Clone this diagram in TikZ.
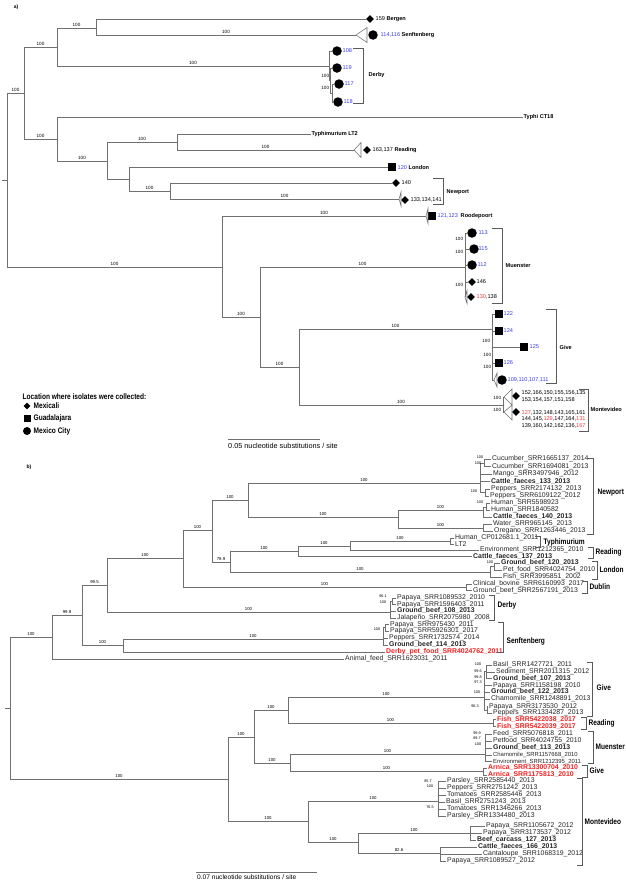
\documentclass[tikz,border=0pt]{standalone}
\usepackage{fontspec}
\setmainfont{Liberation Sans}
\usetikzlibrary{shapes.geometric}
\definecolor{brgray}{HTML}{707070}
\definecolor{idblue}{HTML}{3B3BEF}
\definecolor{idred}{HTML}{EF3B3B}
\definecolor{redlbl}{HTML}{F21F1F}
\newcommand{\narrow}[1]{\scalebox{0.82}[1]{\bfseries #1}}
\tikzset{
  br/.style={draw=brgray, line width=0.55pt},
  brk/.style={draw=brgray!80!black, line width=0.6pt},
  boot/.style={pos=0.75, above, inner sep=0.7pt, font=\fontsize{4.6}{5}\selectfont},
  bootx/.style={anchor=east, inner sep=0.7pt, font=\fontsize{4.6}{5}\selectfont},
  bootb/.style={pos=0.75, above, inner sep=0.7pt, font=\fontsize{4.3}{5}\selectfont},
  bsm/.style={inner sep=0pt, font=\fontsize{3.8}{4}\selectfont},
  dia/.style={diamond, fill=black, inner sep=0pt, minimum size=8pt},
  sqr/.style={rectangle, fill=black, inner sep=0pt, minimum size=8pt},
  cir/.style={circle, fill=black, inner sep=0pt, minimum size=9.5pt},
  ida/.style={anchor=west, inner sep=0.5pt, font=\fontsize{5.6}{6}\selectfont},
  leaf/.style={anchor=west, inner sep=1pt, font=\fontsize{6.9}{7}\selectfont, text height=5pt, text depth=1.4pt, text=black!85},
  leafs/.style={leaf, font=\fontsize{5.9}{6}\selectfont},
  sero/.style={anchor=west, inner sep=0.5pt, font=\fontsize{8}{8}\selectfont},
  tag/.style={font=\fontsize{5}{5}\selectfont\bfseries},
}
\begin{document}
\begin{tikzpicture}[x=1pt,y=-1pt]
\useasboundingbox (0,0) rectangle (625,881);
%%%%%%%%%%%%%%%% a) %%%%%%%%%%%%%%%%
\node[tag] (tagA) at (16,7) {a)};
\coordinate (aRt) at (2,180);
\coordinate (aR) at (7,180);
\coordinate (aN1) at (24,93);
\coordinate (aN2) at (57,47);
\coordinate (aN3) at (96,28);
\coordinate (aN4) at (57,139);
\coordinate (aN5) at (107,161);
\coordinate (aN6) at (177,142);
\coordinate (aN7) at (129,179);
\coordinate (aN8) at (170,191);
\coordinate (aN9) at (222,267);
\coordinate (aN10) at (260,317);
\coordinate (aN11) at (299,367);
\coordinate (aDer) at (329,66);
\coordinate (aDer1) at (330,80.5);
\coordinate (aDer2) at (332,93);
\coordinate (aMue) at (465,267);
\coordinate (aGiv) at (492,329);
\coordinate (aMon) at (503,405);
% collapsed clades
\coordinate (aSenT) at (356,35);
\coordinate (aReaT) at (354,150);
\coordinate (aNewT) at (399,199);
\coordinate (aRooT) at (426,216);
\coordinate (aMueT) at (465,297);
\coordinate (aGivT) at (494,380);
\coordinate (aMonT1) at (504,397);
\coordinate (aMonT2) at (504,412);
% tips
\node[dia] (aBer) at (370,19) {};
\node[cir] (aSen) at (373,35) {};
\node[cir] (a108) at (337,51) {};
\node[cir] (a119) at (337,68) {};
\node[cir] (a117) at (339,84) {};
\node[cir] (a118) at (338,102) {};
\node[ida] (aTyphi) at (523,117) {\textbf{Typhi CT18}};
\node[ida] (aLT2) at (311,134) {\textbf{Typhimurium LT2}};
\node[dia] (aRea) at (367,150) {};
\node[sqr] (aLon) at (392,167) {};
\node[dia] (a140) at (396,183) {};
\node[dia] (aNew) at (405,200) {};
\node[sqr] (aRoo) at (432,216) {};
\node[cir] (a113) at (472,233) {};
\node[cir] (a115) at (474,249) {};
\node[cir] (a112) at (472,265) {};
\node[dia] (a146) at (472,282) {};
\node[dia] (a130) at (471,297) {};
\node[sqr] (a122) at (499,314) {};
\node[sqr] (a124) at (499,331) {};
\node[sqr] (a125) at (524,347) {};
\node[sqr] (a126) at (499,363) {};
\node[cir] (a109) at (502,380) {};
\node[dia] (aMo1) at (516,396) {};
\node[dia] (aMo2) at (516,412) {};
% branches
\draw[br] (aRt) -- (aR);
\draw[br] (aR) |- node[boot]{100} (aN1);
\draw[br] (aR) |- node[boot]{100} (aN9);
\draw[br] (aN1) |- node[boot]{100} (aN2);
\draw[br] (aN1) |- node[boot]{100} (aN4);
\draw[br] (aN2) |- node[boot]{100} (aN3);
\draw[br] (aN2) |- node[boot]{100} (aDer);
\draw[br] (aN3) |- (aBer);
\draw[br] (aN3) |- node[boot]{100} (aSenT);
\draw[br] (aN4) |- (aTyphi);
\draw[br] (aN4) |- node[boot]{100} (aN5);
\draw[br] (aN5) |- node[boot]{100} (aN6);
\draw[br] (aN5) |- (aN7);
\draw[br] (aN6) |- (aLT2);
\draw[br] (aN6) |- node[boot]{100} (aReaT);
\draw[br] (aN7) |- (aLon);
\draw[br] (aN7) |- node[boot]{100} (aN8);
\draw[br] (aN8) |- (a140);
\draw[br] (aN8) |- node[boot]{100} (aNewT);
\draw[br] (aN9) |- node[boot]{100} (aRooT);
\draw[br] (aN9) |- node[boot]{100} (aN10);
\draw[br] (aN10) |- node[boot]{100} (aMue);
\draw[br] (aN10) |- node[boot]{100} (aN11);
\draw[br] (aN11) |- node[boot]{100} (aGiv);
\draw[br] (aN11) |- node[boot]{100} (aMon);
% Derby
\draw[br] (aDer) |- (a108);
\draw[br] (aDer) |- (aDer1);
\draw[br] (aDer1) |- (a119);
\draw[br] (aDer1) |- (aDer2);
\draw[br] (aDer2) |- (a117);
\draw[br] (aDer2) |- (a118);
\node[bootx] at (330,76) {100};
\node[bootx] at (330,88) {100};
% Muenster, Give, Montevideo
\foreach \t in {a113,a115,a112,a146,aMueT} \draw[br] (aMue) |- (\t);
\foreach \t in {a122,a124,a125,a126,aGivT} \draw[br] (aGiv) |- (\t);
\draw[br] (aMon) |- (aMonT1);
\draw[br] (aMon) |- (aMonT2);
\node[bootx] at (464,239) {100};
\node[bootx] at (464,252) {100};
\node[bootx] at (464,285) {100};
\node[bootx] at (491,341) {100};
\node[bootx] at (492,355) {100};
\node[bootx] at (492,367) {100};
\node[bootx] at (502,398) {100};
\node[bootx] at (502,410) {100};
% triangles
\draw[br] (aSenT) -- ++(11,-7.5) -- ++(0,15) -- cycle;
\draw[br] (aReaT) -- ++(7,-7.5) -- ++(0,15) -- cycle;
\draw[br] (aNewT) -- ++(2,-7) -- ++(0,14) -- cycle;
\draw[br] (aRooT) -- ++(2,-7.5) -- ++(0,15) -- cycle;
\draw[br] (aMueT) -- ++(2,-6.5) -- ++(0,13) -- cycle;
\draw[br] (aGivT) -- ++(3,-7) -- ++(0,14) -- cycle;
\draw[br] (aMonT1) -- ++(8,-8) -- ++(0,16) -- cycle;
\draw[br] (aMonT2) -- ++(8,-7) -- ++(0,15) -- cycle;
% isolate labels
\node[ida] (aBerL) at (375,19) {159 \textbf{Bergen}};
\node[ida] (aSenL) at (380,35) {\textcolor{idblue}{114,116} \textbf{Senftenberg}};
\node[ida] (a108L) at (342,51) {\textcolor{idblue}{108}};
\node[ida] (a119L) at (342,68) {\textcolor{idblue}{119}};
\node[ida] (a117L) at (344,84) {\textcolor{idblue}{117}};
\node[ida] (a118L) at (343,102) {\textcolor{idblue}{118}};
\node[ida] (aReaL) at (372,150) {163,137 \textbf{Reading}};
\node[ida] (aLonL) at (397,167) {\textcolor{idblue}{120} \textbf{London}};
\node[ida] (a140L) at (401,183) {140};
\node[ida] (aNewL) at (410,200) {133,134,141};
\node[ida] (aRooL) at (437,216) {\textcolor{idblue}{121,123}\enspace\textbf{Roodepoort}};
\node[ida] (a113L) at (478,233) {\textcolor{idblue}{113}};
\node[ida] (a115L) at (478,249) {\textcolor{idblue}{115}};
\node[ida] (a112L) at (477,265) {\textcolor{idblue}{112}};
\node[ida] (a146L) at (476,282) {146};
\node[ida] (a130L) at (476,297) {\textcolor{idred}{130},138};
\node[ida] (a122L) at (503,314) {\textcolor{idblue}{122}};
\node[ida] (a124L) at (503,331) {\textcolor{idblue}{124}};
\node[ida] (a125L) at (529,347) {\textcolor{idblue}{125}};
\node[ida] (a126L) at (503,363) {\textcolor{idblue}{126}};
\node[ida] (a109L) at (507,380) {\textcolor{idblue}{109,110,107,111}};
\node[ida] (aMoL1) at (521,393) {152,166,150,155,156,135};
\node[ida] (aMoL2) at (521,399.5) {153,154,157,151,158};
\node[ida] (aMoL3) at (521,412.5) {\textcolor{idred}{127},132,148,143,165,161};
\node[ida] (aMoL4) at (521,419.3) {144,145,\textcolor{idred}{129},147,164,\textcolor{idred}{131}};
\node[ida] (aMoL5) at (521,426) {139,160,142,162,136,\textcolor{idred}{167}};
% serovar brackets
\draw[brk] (353,48) -- (363,48) -- (363,103) -- (353,103);
\node[ida] (aDerL) at (368,75) {\textbf{Derby}};
\draw[brk] (433,178) -- (443,178) -- (443,204) -- (433,204);
\node[ida] (aNewS) at (446,192) {\textbf{Newport}};
\draw[brk] (492,228) -- (502,228) -- (502,303) -- (492,303);
\node[ida] (aMueL) at (505,266) {\textbf{Muenster}};
\draw[brk] (546,309) -- (556,309) -- (556,383) -- (546,383);
\node[ida] (aGivL) at (559,347) {\textbf{Give}};
\draw[brk] (579,389) -- (588,389) -- (588,431) -- (579,431);
\node[ida] (aMonL) at (590,409) {\textbf{Montevideo}};
% legend
\node[sero] (legT) at (22,397) {\narrow{Location where isolates were collected:}};
\node[dia, minimum size=7pt] (legD) at (27,406) {};
\node[sero] (legDL) at (33,406) {\narrow{Mexicali}};
\node[sqr, minimum size=7pt] (legS) at (27,418) {};
\node[sero] (legSL) at (33,418) {\narrow{Guadalajara}};
\node[cir, minimum size=8pt] (legC) at (27,431) {};
\node[sero] (legCL) at (33,431) {\narrow{Mexico City}};
% scale
\coordinate (sbA1) at (228,439);
\coordinate (sbA2) at (320,439);
\draw[br] (sbA1) -- (sbA2);
\node[anchor=west, inner sep=0pt, font=\fontsize{7.3}{7}\selectfont] (sbAL) at (228,445.5) {0.05 nucleotide substitutions / site};
%%%%%%%%%%%%%%%% b) %%%%%%%%%%%%%%%%
\node[tag] (tagB) at (29,467) {b)};
\coordinate (bRt) at (5,708);
\coordinate (bR) at (10,708);
\coordinate (bN1) at (52,637);
\coordinate (bN2) at (82,615);
\coordinate (bN3) at (107,585);
\coordinate (bN4) at (183,558);
\coordinate (bN5) at (212,530);
\coordinate (bN6) at (248,500);
\coordinate (bN7) at (398,517);
\coordinate (bN8) at (230,562);
\coordinate (bN9) at (298,551);
\coordinate (bN10) at (350,546);
\coordinate (bN11) at (123,645);
\coordinate (bN12) at (228,779);
\coordinate (bN13) at (254,737);
\coordinate (bN14) at (288,710);
\coordinate (bN15) at (290,763);
\coordinate (bN16) at (308,821);
\coordinate (bN17) at (358,842);
\coordinate (bNwA) at (480,483);
\coordinate (bNwA1) at (484,463);
\coordinate (bNwA2) at (485,492.5);
\coordinate (bNwB) at (483,510);
\coordinate (bNwB1) at (486,507);
\coordinate (bNwC) at (483,528);
\coordinate (bTym) at (450,541);
\coordinate (bLon) at (490,572);
\coordinate (bLon1) at (494,566.5);
\coordinate (bDub) at (466,587);
\coordinate (bDer) at (390,612);
\coordinate (bDer1) at (392,601);
\coordinate (bSen) at (383,639);
\coordinate (bSen1) at (385,627.5);
\coordinate (bGiv) at (484,697);
\coordinate (bGiv1) at (486,671.5);
\coordinate (bGiv2) at (487,710);
\coordinate (bRea) at (493,723);
\coordinate (bMue) at (485,754);
\coordinate (bGiv3) at (483,771);
\coordinate (bMon1) at (438,801);
\coordinate (bMon2) at (470,833);
\coordinate (bMon3) at (440,853);
% leaves
\node[leaf] (bCu1) at (491,459) {Cucumber\_SRR1665137\_2014};
\node[leaf] (bCu2) at (491,466.5) {Cucumber\_SRR1694081\_2013};
\node[leaf] (bMan) at (492,474) {Mango\_SRR3497946\_2012};
\node[leaf] (bCf133) at (490,481.5) {\bfseries Cattle\_faeces\_133\_2013};
\node[leaf] (bPe1) at (490,489) {Peppers\_SRR2174132\_2013};
\node[leaf] (bPe2) at (489,496) {Peppers\_SRR6109122\_2012};
\node[leaf] (bHu1) at (490,503) {Human\_SRR5598923};
\node[leaf] (bHu2) at (490,510) {Human\_SRR1840582};
\node[leaf] (bCf140) at (492,517) {\bfseries Cattle\_faeces\_140\_2013};
\node[leaf] (bWat) at (492,524) {Water\_SRR965145\_2013};
\node[leaf] (bOre) at (493,531) {Oregano\_SRR1263446\_2013};
\node[leaf] (bHcp) at (454,538) {Human\_CP012681.1\_2011};
\node[leaf] (bLt2) at (454,544.5) {LT2};
\node[leaf] (bEnv) at (479,550) {Environment\_SRR1212365\_2010};
\node[leaf] (bCf137) at (472,556.5) {\bfseries Cattle\_faeces\_137\_2013};
\node[leaf] (bGb120) at (500,563) {\bfseries Ground\_beef\_120\_2013};
\node[leaf] (bPet) at (502,570) {Pet\_food\_SRR4024754\_2010};
\node[leaf] (bFis) at (502,577) {Fish\_SRR3995851\_2002};
\node[leaf] (bCli) at (472,584) {Clinical\_bovine\_SRR6160993\_2017};
\node[leaf] (bGbD) at (472,590.5) {Ground\_beef\_SRR2567191\_2013};
\node[leaf] (bPa1) at (396,598) {Papaya\_SRR1089532\_2010};
\node[leaf] (bPa2) at (396,604.5) {Papaya\_SRR1596403\_2011};
\node[leaf] (bGb108) at (396,611) {\bfseries Ground\_beef\_108\_2013};
\node[leaf] (bJal) at (396,618) {Jalapeño\_SRR2075980\_2008};
\node[leaf] (bPa3) at (389,624.5) {Papaya\_SRR975430\_2011};
\node[leaf] (bPa4) at (389,631) {Papaya\_SRR5926301\_2017};
\node[leaf] (bPe3) at (388,638) {Peppers\_SRR1732574\_2014};
\node[leaf] (bGb114) at (388,645) {\bfseries Ground\_beef\_114\_2013};
\node[leaf, text=redlbl] (bDpf) at (385,652) {\bfseries Derby\_pet\_food\_SRR4024762\_2011};
\node[leaf] (bAni) at (344,659) {Animal\_feed\_SRR1623031\_2011};
\node[leaf] (bBa1) at (492,665) {Basil\_SRR1427721\_2011};
\node[leaf] (bSed) at (495,672) {Sediment\_SRR2011315\_2012};
\node[leaf] (bGb107) at (492,678.5) {\bfseries Ground\_beef\_107\_2013};
\node[leaf] (bPa5) at (492,685.5) {Papaya\_SRR1158198\_2010};
\node[leaf] (bGb122) at (490,692) {\bfseries Ground\_beef\_122\_2013};
\node[leaf] (bCh1) at (490,699) {Chamomile\_SRR1248891\_2013};
\node[leaf] (bPa6) at (488,706.5) {Papaya\_SRR3173530\_2012};
\node[leaf] (bPe4) at (492,713) {Peppers\_SRR1334287\_2013};
\node[leaf, text=redlbl] (bFi1) at (496,719.5) {\bfseries Fish\_SRR5422038\_2017};
\node[leaf, text=redlbl] (bFi2) at (496,726.5) {\bfseries Fish\_SRR5422039\_2017};
\node[leaf] (bFee) at (492,734) {Feed\_SRR5076818\_2011};
\node[leaf] (bPtf) at (492,741) {Petfood\_SRR4024755\_2010};
\node[leaf] (bGb113) at (492,748) {\bfseries Ground\_beef\_113\_2013};
\node[leafs] (bCh2) at (492,755) {Chamomile\_SRR1157668\_2010};
\node[leafs] (bEn2) at (492,761.5) {Environment\_SRR1212395\_2011};
\node[leaf, text=redlbl] (bAr1) at (487,768) {\bfseries Arnica\_SRR13300704\_2010};
\node[leaf, text=redlbl] (bAr2) at (487,775) {\bfseries Arnica\_SRR1175813\_2010};
\node[leaf] (bPs1) at (446,781) {Parsley\_SRR2585440\_2013};
\node[leaf] (bPe5) at (446,788) {Peppers\_SRR2751242\_2013};
\node[leaf] (bTo1) at (446,795) {Tomatoes\_SRR2585446\_2013};
\node[leaf] (bBa2) at (445,802) {Basil\_SRR2751243\_2013};
\node[leaf] (bTo2) at (446,809) {Tomatoes\_SRR1346266\_2013};
\node[leaf] (bPs2) at (446,816) {Parsley\_SRR1334480\_2013};
\node[leaf] (bPa7) at (485,826) {Papaya\_SRR1105672\_2012};
\node[leaf] (bPa8) at (482,833) {Papaya\_SRR3173537\_2012};
\node[leaf] (bBc127) at (476,840) {\bfseries Beef\_carcass\_127\_2013};
\node[leaf] (bCf166) at (477,847) {\bfseries Cattle\_faeces\_166\_2013};
\node[leaf] (bCan) at (482,854) {Cantaloupe\_SRR1068319\_2012};
\node[leaf] (bPa9) at (446,861) {Papaya\_SRR1089527\_2012};
% backbone
\draw[br] (bRt) -- (bR);
\draw[br] (bR) |- node[bootb]{100} (bN1);
\draw[br] (bR) |- node[bootb]{100} (bN12);
\draw[br] (bN1) |- node[bootb]{99.9} (bN2);
\draw[br] (bN1) |- (bAni);
\draw[br] (bN2) |- node[bootb]{99.5} (bN3);
\draw[br] (bN2) |- node[bootb]{100} (bN11);
\draw[br] (bN3) |- node[bootb]{100} (bN4);
\draw[br] (bN3) |- node[bootb]{100} (bDer);
\draw[br] (bN4) |- node[bootb]{100} (bN5);
\draw[br] (bN4) |- node[bootb]{100} (bDub);
\draw[br] (bN5) |- node[bootb]{100} (bN6);
\draw[br] (bN5) |- node[bootb]{78.9} (bN8);
\draw[br] (bN6) |- node[bootb]{100} (bNwA);
\draw[br] (bN6) |- node[bootb]{100} (bN7);
\draw[br] (bN7) |- node[bootb]{100} (bNwB);
\draw[br] (bN7) |- node[bootb]{100} (bNwC);
\draw[br] (bN8) |- node[bootb]{100} (bN9);
\draw[br] (bN8) |- node[bootb]{100} (bLon);
\draw[br] (bN9) |- node[bootb]{100} (bN10);
\draw[br] (bN9) |- (bCf137);
\draw[br] (bN10) |- node[bootb]{100} (bTym);
\draw[br] (bN10) |- (bEnv);
\draw[br] (bN11) |- node[bootb]{100} (bSen);
\draw[br] (bN11) |- (bDpf);
\draw[br] (bN12) |- node[bootb]{100} (bN13);
\draw[br] (bN12) |- node[bootb]{100} (bN16);
\draw[br] (bN13) |- node[bootb]{100} (bN14);
\draw[br] (bN13) |- node[bootb]{100} (bN15);
\draw[br] (bN14) |- node[bootb]{100} (bGiv);
\draw[br] (bN14) |- node[bootb]{100} (bRea);
\draw[br] (bN15) |- node[bootb]{100} (bMue);
\draw[br] (bN15) |- node[bootb]{100} (bGiv3);
\draw[br] (bN16) |- node[bootb]{100} (bMon1);
\draw[br] (bN16) |- node[bootb]{100} (bN17);
\draw[br] (bN17) |- node[bootb]{100} (bMon2);
\draw[br] (bN17) |- node[bootb]{82.6} (bMon3);
% clades
\foreach \t in {bNwA1,bMan,bCf133,bNwA2} \draw[br] (bNwA) |- (\t);
\foreach \t in {bCu1,bCu2} \draw[br] (bNwA1) |- (\t);
\foreach \t in {bPe1,bPe2} \draw[br] (bNwA2) |- (\t);
\foreach \t in {bNwB1,bCf140} \draw[br] (bNwB) |- (\t);
\foreach \t in {bHu1,bHu2} \draw[br] (bNwB1) |- (\t);
\foreach \t in {bWat,bOre} \draw[br] (bNwC) |- (\t);
\foreach \t in {bHcp,bLt2} \draw[br] (bTym) |- (\t);
\foreach \t in {bLon1,bFis} \draw[br] (bLon) |- (\t);
\foreach \t in {bGb120,bPet} \draw[br] (bLon1) |- (\t);
\foreach \t in {bCli,bGbD} \draw[br] (bDub) |- (\t);
\foreach \t in {bDer1,bGb108,bJal} \draw[br] (bDer) |- (\t);
\foreach \t in {bPa1,bPa2} \draw[br] (bDer1) |- (\t);
\foreach \t in {bSen1,bPe3,bGb114} \draw[br] (bSen) |- (\t);
\foreach \t in {bPa3,bPa4} \draw[br] (bSen1) |- (\t);
\foreach \t in {bGiv1,bPa5,bGb122,bCh1,bGiv2} \draw[br] (bGiv) |- (\t);
\foreach \t in {bBa1,bSed,bGb107} \draw[br] (bGiv1) |- (\t);
\foreach \t in {bPa6,bPe4} \draw[br] (bGiv2) |- (\t);
\foreach \t in {bFi1,bFi2} \draw[br] (bRea) |- (\t);
\foreach \t in {bFee,bPtf,bGb113,bCh2,bEn2} \draw[br] (bMue) |- (\t);
\foreach \t in {bAr1,bAr2} \draw[br] (bGiv3) |- (\t);
\foreach \t in {bPs1,bPe5,bTo1,bBa2,bTo2,bPs2} \draw[br] (bMon1) |- (\t);
\foreach \t in {bPa7,bPa8,bBc127} \draw[br] (bMon2) |- (\t);
\foreach \t in {bCf166,bCan,bPa9} \draw[br] (bMon3) |- (\t);
% small support values
\node[bsm] at (480,457) {100};
\node[bsm] at (478,463) {100};
\node[bsm] at (474,491) {100};
\node[bsm] at (480,502) {100};
\node[bsm] at (490,562) {100};
\node[bsm] at (383,596) {96.1};
\node[bsm] at (383,602) {100};
\node[bsm] at (377,629) {100};
\node[bsm] at (478,664) {100};
\node[bsm] at (478,671) {99.6};
\node[bsm] at (478,677) {99.8};
\node[bsm] at (478,682) {97.3};
\node[bsm] at (477,692) {100};
\node[bsm] at (475,706) {96.3};
\node[bsm] at (477,733) {99.9};
\node[bsm] at (477,738) {89.7};
\node[bsm] at (478,744) {100};
\node[bsm] at (428,781) {85.7};
\node[bsm] at (430,786) {100};
\node[bsm] at (430,807) {76.5};
% serovar brackets
\draw[brk] (587,458) -- (593,458) -- (593,534) -- (587,534);
\node[sero] (bNewL) at (597,493) {\narrow{Newport}};
\draw[brk] (535,536) -- (540,536) -- (540,547) -- (535,547);
\node[sero] (bTymL) at (543,542) {\narrow{Typhimurium}};
\draw[brk] (588,547) -- (593,547) -- (593,558) -- (588,558);
\node[sero] (bReaL) at (595,552) {\narrow{Reading}};
\draw[brk] (592,561) -- (597,561) -- (597,579) -- (592,579);
\node[sero] (bLonL) at (599,570) {\narrow{London}};
\draw[brk] (582,581) -- (587,581) -- (587,593) -- (582,593);
\node[sero] (bDubL) at (589,587) {\narrow{Dublin}};
\draw[brk] (489,595) -- (494,595) -- (494,620) -- (489,620);
\node[sero] (bDerL) at (497,605) {\narrow{Derby}};
\draw[brk] (498,622) -- (503,622) -- (503,652) -- (498,652);
\node[sero] (bSenL) at (506,641) {\narrow{Senftenberg}};
\draw[brk] (587,662) -- (592,662) -- (592,716) -- (587,716);
\node[sero] (bGivL) at (596,688) {\narrow{Give}};
\draw[brk] (581,717) -- (586,717) -- (586,729) -- (581,729);
\node[sero] (bRea2L) at (588,723) {\narrow{Reading}};
\draw[brk] (588,731) -- (593,731) -- (593,763) -- (588,763);
\node[sero] (bMueL) at (595,747) {\narrow{Muenster}};
\draw[brk] (582,765) -- (587,765) -- (587,777) -- (582,777);
\node[sero] (bGiv2L) at (589,771) {\narrow{Give}};
\draw[brk] (577,778) -- (582,778) -- (582,865) -- (577,865);
\node[sero] (bMonL) at (584,822) {\narrow{Montevideo}};
% scale
\coordinate (sbB1) at (196,872);
\coordinate (sbB2) at (317,872);
\draw[br] (sbB1) -- (sbB2);
\node[anchor=west, inner sep=0pt, font=\fontsize{6.6}{7}\selectfont] (sbBL) at (197,877.5) {0.07 nucleotide substitutions / site};
\end{tikzpicture}
\end{document}
